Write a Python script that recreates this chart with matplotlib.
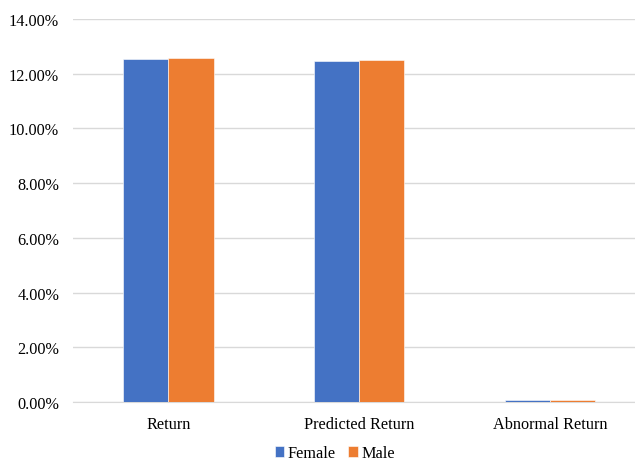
import matplotlib
matplotlib.use('Agg')
import matplotlib.pyplot as plt
import numpy as np
from matplotlib.ticker import FuncFormatter

#
# DATA
#

CATEGORIES = ['Return', 'Predicted Return', 'Abnormal Return']
FEMALE = [12.54, 12.46, 0.07]
MALE = [12.57, 12.50, 0.08]
SERIES_NAMES = ['Female', 'Male']

BLUE = '#4472C4'
ORANGE = '#ED7D31'

plt.rcParams['font.family'] = ['Liberation Serif', 'DejaVu Serif']

fig = plt.figure(figsize=(6.35, 4.64), dpi=100)
# plot area runs a little past the right edge, like the cropped original
ax = fig.add_axes([0.115, 0.131, 0.901, 0.826])

x = np.arange(len(CATEGORIES))
width = 0.237

ax.bar(x - width / 2, FEMALE, width, color=BLUE, label=SERIES_NAMES[0],
       edgecolor='white', linewidth=0.4, zorder=3)
ax.bar(x + width / 2, MALE, width, color=ORANGE, label=SERIES_NAMES[1],
       edgecolor='white', linewidth=0.4, zorder=3)

ax.set_xlim(-0.5, len(CATEGORIES) - 0.5)
ax.set_ylim(0, 14)
ax.set_yticks(np.arange(0, 14.1, 2))
ax.yaxis.set_major_formatter(FuncFormatter(lambda v, p: '{:.2f}%'.format(v)))
ax.set_xticks(x)
ax.set_xticklabels(CATEGORIES)

ax.grid(axis='y', color='#D9D9D9', linewidth=1, zorder=0)
for side in ['top', 'right', 'left']:
    ax.spines[side].set_visible(False)
ax.spines['bottom'].set_color('#D9D9D9')
ax.tick_params(axis='both', length=0, labelsize=11.7, colors='#000000')
ax.tick_params(axis='y', pad=10)
ax.tick_params(axis='x', pad=10)

fig.legend(*ax.get_legend_handles_labels(), loc='center',
           bbox_to_anchor=(0.527, 0.021), ncol=2, frameon=False,
           fontsize=11.7, handlelength=0.6, handleheight=0.6, handletextpad=0.2,
           columnspacing=0.75, borderpad=0.0)

fig.savefig('out.png', dpi=100)
